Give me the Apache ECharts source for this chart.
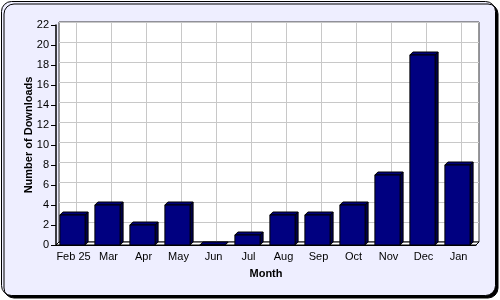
<!DOCTYPE html>
<html><head><meta charset="utf-8">
<style>html,body{margin:0;padding:0;background:#fff;}#c{width:500px;height:300px;}</style>
<script src="https://cdn.jsdelivr.net/npm/echarts@6/dist/echarts.min.js"></script>
</head><body><div id="c"></div>
<script>
const categories = ['Feb 25','Mar','Apr','May','Jun','Jul','Aug','Sep','Oct','Nov','Dec','Jan'];
const downloads = [3,4,2,4,0,1,3,3,4,7,19,8];
const yMax = 22, yStep = 2;
const DX = 3, DY = 3;
const font = 'Liberation Sans, Arial, sans-serif';

const chart = echarts.init(document.getElementById('c'), null, {renderer:'canvas'});

function barItem(params, api){
  const i = api.value(0), v = api.value(1);
  const top = api.coord([i, v]);
  const bot = api.coord([i, 0]);
  const w = api.size([1,0])[0]*0.72;
  const x0 = top[0]-w/2 - 1, x1 = x0 + w;
  const y0 = top[1], y1 = bot[1];
  const ls = {stroke:'#000', lineWidth:1};
  return {type:'group', children:[
    {type:'polygon', shape:{points:[[x1,y0],[x1+DX,y0-DY],[x1+DX,y1-DY],[x1,y1]]}, style:Object.assign({fill:'#00004a'},ls)},
    {type:'polygon', shape:{points:[[x0,y0],[x0+DX,y0-DY],[x1+DX,y0-DY],[x1,y0]]}, style:Object.assign({fill:'#00007a'},ls)},
    {type:'rect', shape:{x:x0,y:y0,width:w,height:y1-y0}, style:Object.assign({fill:'#000080'},ls)}
  ]};
}

function vline(params, api){
  const i = api.value(0);
  const a = api.coord([i, 0]), b = api.coord([i, yMax]);
  return {type:'line', shape:{x1:a[0],y1:a[1],x2:b[0],y2:b[1]}, style:{stroke:'#c8c8c8', lineWidth:1}};
}

function floor(params, api){
  const cs = params.coordSys;
  const y = cs.y+cs.height, x = cs.x, r = cs.x+cs.width;
  return {type:'polygon', shape:{points:[[x,y],[r,y],[r+DX,y-DY],[x+DX,y-DY]]}, style:{fill:'#fff', stroke:'#000', lineWidth:1}};
}

chart.setOption({
  animation:false,
  backgroundColor:'transparent',
  graphic:[{type:'rect', z:-10, silent:true, shape:{x:1.5,y:1.5,width:494,height:294,r:10},
    style:{fill:'#eeeeff', stroke:'#000', lineWidth:1, shadowColor:'#000', shadowOffsetX:2.5, shadowOffsetY:2.5, shadowBlur:0}}],
  grid:[
    {left:56, right:24, top:25, bottom:55},
    {left:59, right:21, top:22, bottom:58, show:true, backgroundColor:'#fff', borderColor:'#333', borderWidth:1}
  ],
  xAxis:[
    {type:'category', data:categories, gridIndex:0,
     axisLine:{lineStyle:{color:'#000'}}, axisTick:{alignWithLabel:true, length:4, lineStyle:{color:'#000'}},
     axisLabel:{color:'#000', fontSize:11, fontFamily:font, margin:6, interval:0},
     name:'Month', nameLocation:'middle', nameGap:23, nameMoveOverlap:false,
     nameTextStyle:{color:'#000', fontSize:11, fontWeight:'bold', fontFamily:font}},
    {type:'category', data:categories, gridIndex:1, show:false}
  ],
  yAxis:[
    {type:'value', min:0, max:yMax, interval:yStep, gridIndex:0,
     axisLine:{show:true, lineStyle:{color:'#000', width:1.5}}, axisTick:{show:true, length:5, lineStyle:{color:'#000'}},
     splitLine:{show:false},
     axisLabel:{color:'#000', fontSize:11, fontFamily:font, margin:7},
     name:'Number of Downloads', nameLocation:'middle', nameGap:22, nameMoveOverlap:false,
     nameTextStyle:{color:'#000', fontSize:11, fontWeight:'bold', fontFamily:font}},
    {type:'value', min:0, max:yMax, interval:yStep, gridIndex:1,
     axisLine:{show:false}, axisTick:{show:false}, axisLabel:{show:false},
     splitLine:{show:true, lineStyle:{color:'#c8c8c8', width:1}}}
  ],
  series:[
    {type:'custom', xAxisIndex:1, yAxisIndex:1, z:1, renderItem:vline, data:categories.map((c,i)=>[i])},
    {type:'custom', xAxisIndex:0, yAxisIndex:0, z:2, renderItem:floor, data:[[0]]},
    {type:'custom', xAxisIndex:0, yAxisIndex:0, z:3, renderItem:barItem, data:downloads.map((v,i)=>[i,v])}
  ]
});
</script></body></html>
